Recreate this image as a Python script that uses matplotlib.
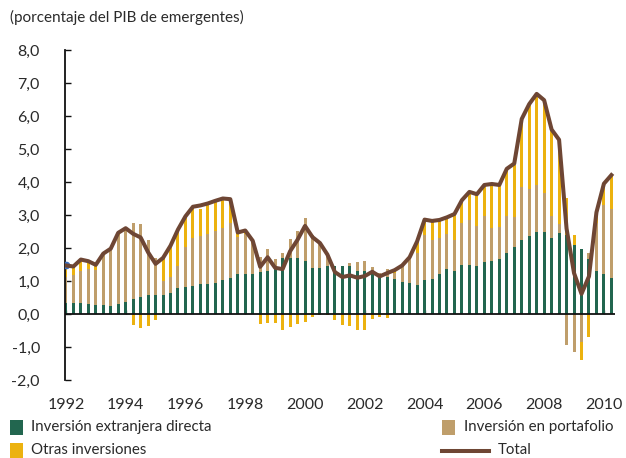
import numpy as np
import matplotlib
matplotlib.use("Agg")
import matplotlib.pyplot as plt
from matplotlib.patches import Rectangle
from matplotlib.lines import Line2D

plt.rcParams['font.family'] = ['Lato', 'DejaVu Sans']

# Quarterly data, 1992Q1 .. 2010Q2 (% of emerging-market GDP)
start_year = 1992
fdi = [0.33, 0.33, 0.33, 0.30, 0.28, 0.28, 0.25, 0.31, 0.37, 0.46,
       0.52, 0.58, 0.58, 0.58, 0.64, 0.80, 0.83, 0.86, 0.92, 0.92,
       0.95, 1.04, 1.10, 1.22, 1.22, 1.22, 1.28, 1.31, 1.38, 1.70,
       1.70, 1.69, 1.62, 1.40, 1.40, 1.46, 1.46, 1.46, 1.46, 1.31,
       1.31, 1.24, 1.11, 1.11, 1.05, 0.98, 0.95, 0.89, 1.04, 1.07,
       1.22, 1.37, 1.31, 1.49, 1.49, 1.46, 1.59, 1.62, 1.68, 1.86,
       2.04, 2.25, 2.37, 2.49, 2.49, 2.31, 2.46, 2.40, 2.10, 1.98,
       1.67, 1.31, 1.22, 1.10]
portfolio = [0.79, 0.86, 0.98, 1.07, 1.06, 1.52, 1.70, 2.09, 2.16, 2.30,
             2.21, 1.66, 1.12, 0.43, 0.49, 0.66, 1.21, 1.45, 1.45, 1.51,
             1.57, 1.56, 1.66, 1.10, 1.20, 0.93, 0.45, 0.67, 0.29, 0.16,
             0.58, 0.84, 1.30, 0.98, 0.75, 0.36, 0.00, 0.00, 0.09, 0.27,
             0.31, 0.19, 0.14, 0.26, 0.19, 0.46, 0.72, 0.96, 1.36, 1.18,
             1.09, 1.06, 0.94, 1.28, 1.37, 1.22, 1.39, 1.00, 0.97, 1.12,
             0.91, 1.61, 1.43, 1.41, 1.19, 0.67, 0.28, -0.93, -1.16, -0.85,
             0.19, 1.45, 2.09, 2.09]
other = [0.32, 0.24, 0.30, 0.20, 0.14, 0.03, 0.03, 0.05, 0.07, -0.34,
         -0.43, -0.37, -0.19, 0.69, 0.97, 1.11, 0.92, 0.90, 0.82, 0.86,
         0.87, 0.84, 0.70, 0.13, 0.10, 0.05, -0.29, -0.26, -0.28, -0.47,
         -0.38, -0.29, -0.25, -0.08, -0.04, -0.02, -0.19, -0.34, -0.37, -0.47,
         -0.47, -0.16, -0.10, -0.13, 0.09, 0.03, 0.03, 0.33, 0.43, 0.56,
         0.50, 0.48, 0.76, 0.64, 0.81, 0.92, 0.89, 1.30, 1.24, 1.39,
         1.58, 2.05, 2.54, 2.75, 2.81, 2.61, 2.54, 1.11, 0.30, -0.54,
         -0.71, 0.32, 0.61, 1.02]
total = [1.47, 1.44, 1.65, 1.60, 1.49, 1.83, 1.98, 2.46, 2.60, 2.43,
         2.32, 1.87, 1.52, 1.70, 2.07, 2.56, 2.96, 3.25, 3.29, 3.35,
         3.43, 3.50, 3.48, 2.47, 2.53, 2.22, 1.43, 1.72, 1.40, 1.36,
         1.90, 2.25, 2.67, 2.33, 2.15, 1.80, 1.27, 1.12, 1.17, 1.10,
         1.15, 1.28, 1.14, 1.24, 1.33, 1.47, 1.72, 2.20, 2.86, 2.82,
         2.85, 2.93, 3.03, 3.45, 3.70, 3.63, 3.91, 3.94, 3.91, 4.40,
         4.56, 5.91, 6.36, 6.67, 6.48, 5.59, 5.28, 2.59, 1.24, 0.61,
         1.14, 3.08, 3.95, 4.21]

year_ticks = list(range(1992, 2011, 2))
y_ticks = list(range(-2, 9))
series_names = ["Inversión extranjera directa", "Inversión en portafolio",
                "Otras inversiones", "Total"]
title = "(porcentaje del PIB de emergentes)"

C_FDI = "#22664f"
C_PORT = "#bf9e6b"
C_OTHER = "#ecb20f"
C_TOTAL = "#6e4634"
C_TEXT = "#2a2a2a"

W, H = 626, 458
fig = plt.figure(figsize=(W / 100, H / 100), dpi=100)
ax = fig.add_axes([65 / W, 1 - 380 / H, 550 / W, 330 / H])

x = start_year + np.arange(len(fdi)) / 4.0
pos_base = np.zeros(len(x))
neg_base = np.zeros(len(x))
for vals, col in [(fdi, C_FDI), (portfolio, C_PORT), (other, C_OTHER)]:
    v = np.array(vals)
    bottom = np.where(v >= 0, pos_base, neg_base)
    ax.bar(x, v, bottom=bottom, width=0.1, color=col, linewidth=0, zorder=2)
    pos_base = pos_base + np.where(v >= 0, v, 0)
    neg_base = neg_base + np.where(v < 0, v, 0)

ax.plot(x[:1], total[:1], 'o', ms=4.5, color="#3b6fc0", zorder=3)
ax.plot(x, total, color=C_TOTAL, lw=2.9, zorder=4, solid_joinstyle='round')

ax.axhline(0, color="#111111", lw=1.3, zorder=3)
ax.vlines(year_ticks, 0, 0.13, colors="#666666", lw=1.0, zorder=1)

ax.set_xlim(1991.97, 1991.97 + 550 / 29.89)
ax.set_ylim(-2, 8)
for s in ["top", "right", "bottom"]:
    ax.spines[s].set_visible(False)
ax.spines["left"].set_linewidth(1.3)
ax.spines["left"].set_color("#111111")

ax.set_yticks(y_ticks)
ax.set_yticklabels([f"{v:.1f}".replace(".", ",") for v in y_ticks])
ax.tick_params(axis='y', direction='in', length=4, width=1.0, color="#111111",
               pad=18, labelsize=11.5, labelcolor=C_TEXT)
ax.set_xticks(year_ticks)
ax.set_xticklabels([str(y) for y in year_ticks])
ax.tick_params(axis='x', length=0, pad=13, labelsize=11.5, labelcolor=C_TEXT)

fig.text(10 / W, 1 - 17 / H, title, fontsize=11, color=C_TEXT,
         ha='left', va='center')

# Legend (manual layout)
def square(xp, yc, col):
    fig.add_artist(Rectangle((xp / W, 1 - (yc + 7.5) / H), 13 / W, 15 / H,
                             transform=fig.transFigure, color=col, lw=0))

FS = 10.8
square(10, 427, C_FDI)
fig.text(31 / W, 1 - 427 / H, series_names[0], fontsize=FS, color=C_TEXT,
         ha='left', va='center')
square(10, 450, C_OTHER)
fig.text(31 / W, 1 - 450 / H, series_names[2], fontsize=FS, color=C_TEXT,
         ha='left', va='center')
square(442, 427, C_PORT)
fig.text(464 / W, 1 - 427 / H, series_names[1], fontsize=FS, color=C_TEXT,
         ha='left', va='center')
fig.add_artist(Line2D([442 / W, 489 / W], [1 - 451 / H, 1 - 451 / H],
                      transform=fig.transFigure, color=C_TOTAL, lw=2.9))
fig.text(498 / W, 1 - 450 / H, series_names[3], fontsize=FS, color=C_TEXT,
         ha='left', va='center')

fig.savefig("out.png", dpi=100)
